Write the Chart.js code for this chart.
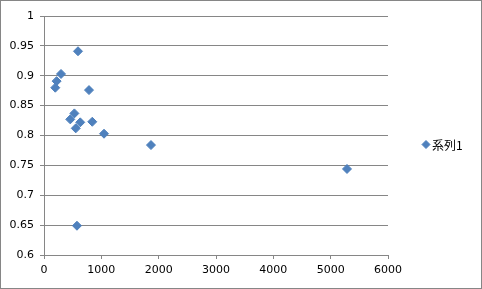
<!DOCTYPE html>
<html>
<head>
<meta charset="utf-8">
<script src="https://cdn.jsdelivr.net/npm/chart.js@4"></script>
<style>
  html, body { margin: 0; padding: 0; background: #fff; }
  #wrap { width: 482px; height: 289px; }
</style>
</head>
<body>
<div id="wrap"><canvas id="scatterChart" width="482" height="289"></canvas></div>
<script>
var seriesName = "系列1";
var xValues = [593, 297, 220, 197, 785, 530, 458, 632, 554, 842, 1047, 1866, 5285, 575];
var yValues = [0.941, 0.903, 0.891, 0.880, 0.876, 0.837, 0.827, 0.822, 0.812, 0.823, 0.803, 0.784, 0.744, 0.649];
var xTicks = [0, 1000, 2000, 3000, 4000, 5000, 6000];
var yTicks = [0.6, 0.65, 0.7, 0.75, 0.8, 0.85, 0.9, 0.95, 1];

var pointColor = "#4F81BD";
var lineColor = "#868686";

var points = xValues.map(function (x, i) {
  return { x: x, y: yValues[i] };
});

// excel style frame + legend on the right
var framePlugin = {
  id: 'frame',
  beforeDraw: function (chart) {
    var ctx = chart.ctx;
    ctx.save();
    ctx.fillStyle = '#fff';
    ctx.fillRect(0, 0, chart.width, chart.height);
    ctx.restore();
  },
  afterDraw: function (chart) {
    var ctx = chart.ctx;
    var ds = chart.data.datasets[0];
    ctx.save();
    ctx.strokeStyle = lineColor;
    ctx.lineWidth = 1;
    ctx.strokeRect(0.5, 0.5, chart.width - 1, chart.height - 1);
    ctx.fillStyle = ds.backgroundColor;
    ctx.strokeStyle = ds.borderColor;
    Chart.helpers.drawPoint(ctx, {
      pointStyle: 'rectRot', radius: 4, borderWidth: 1
    }, 426, 144.5);
    ctx.fillStyle = '#000';
    ctx.font = '12px "Noto Sans CJK JP", sans-serif';
    ctx.textBaseline = 'middle';
    ctx.textAlign = 'left';
    ctx.fillText(ds.label, 432, 145);
    ctx.restore();
  }
};

var tickFont = { family: '"DejaVu Sans", Verdana, sans-serif', size: 11 };

var chart = new Chart(document.querySelector('#scatterChart'), {
  type: 'scatter',
  data: {
    datasets: [
      {
        label: seriesName,
        data: points,
        backgroundColor: pointColor,
        borderColor: pointColor,
        pointStyle: 'rectRot',
        pointRadius: 4.5,
        pointBorderWidth: 1
      }
    ]
  },
  options: {
    responsive: false,
    animation: false,
    layout: { padding: { top: 16, right: 94, bottom: 0, left: 0 } },
    plugins: {
      legend: { display: false },
      tooltip: { enabled: false }
    },
    scales: {
      x: {
        type: 'linear',
        min: xTicks[0],
        max: xTicks[xTicks.length - 1],
        afterBuildTicks: function (scale) {
          scale.ticks = xTicks.map(function (v) { return { value: v }; });
        },
        afterFit: function (scale) { scale.height = 34; },
        grid: { drawOnChartArea: false, drawTicks: true, tickLength: 4, color: lineColor },
        border: { display: true, color: lineColor },
        ticks: {
          color: '#000',
          font: tickFont,
          padding: 5,
          maxRotation: 0,
          callback: function (v) { return String(v); }
        }
      },
      y: {
        type: 'linear',
        min: yTicks[0],
        max: yTicks[yTicks.length - 1],
        afterBuildTicks: function (scale) {
          scale.ticks = yTicks.map(function (v) { return { value: v }; });
        },
        afterFit: function (scale) { scale.width = 44; },
        grid: { drawTicks: true, tickLength: 4, color: lineColor },
        border: { display: true, color: lineColor },
        ticks: {
          color: '#000',
          font: tickFont,
          padding: 6,
          callback: function (v) { return String(v); }
        }
      }
    }
  },
  plugins: [framePlugin]
});
</script>
</body>
</html>
